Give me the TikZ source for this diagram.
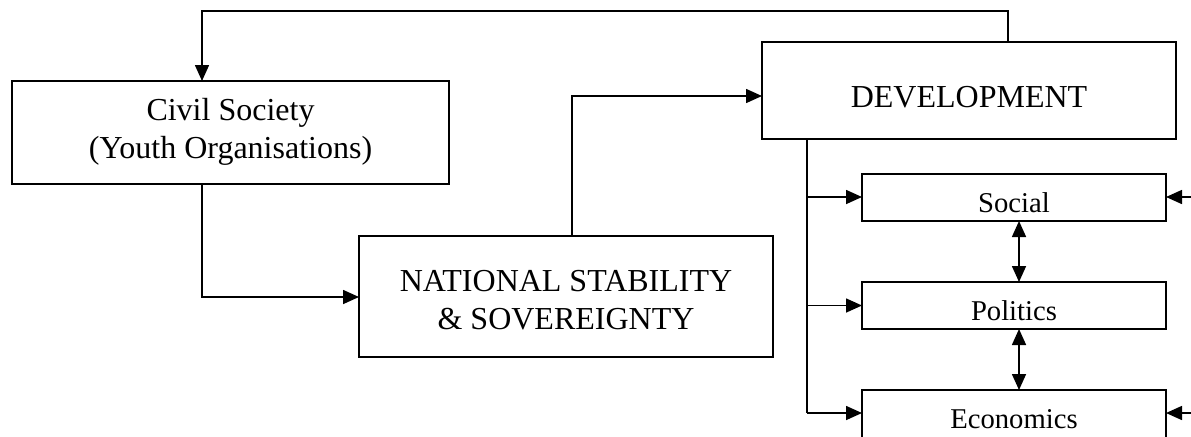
\documentclass[tikz,border=0pt]{standalone}
\usepackage{fontspec}
\setmainfont{Liberation Serif}
\usetikzlibrary{arrows.meta}
\begin{document}
\begin{tikzpicture}[x=0.75pt,y=-0.75pt,
  box/.style={draw,line width=1.5pt,inner sep=0pt,outer sep=0pt},
  bigtext/.style={font=\fontsize{24pt}{28pt}\selectfont},
  smalltext/.style={font=\fontsize{21.5pt}{25pt}\selectfont},
  conn/.style={line width=1.2pt},
  arr/.style={conn,-{Triangle[length=12pt,width=10.5pt]}},
  dbl/.style={conn,{Triangle[length=12pt,width=10.5pt]}-{Triangle[length=12pt,width=10.5pt]}}]
\clip (0,0) rectangle (1191,436);
\fill[white] (0,0) rectangle (1191,436);
% boxes
\node[box,bigtext,align=center,minimum width=437*0.75pt,minimum height=103*0.75pt,
  text height=38.7pt,text depth=0pt] (civil) at (230.5,132.5)
  {\fontsize{24pt}{27.5pt}\selectfont Civil Society\\(Youth Organisations)};
\node[box,bigtext,align=center,minimum width=414*0.75pt,minimum height=121*0.75pt,
  text height=49.2pt,text depth=0pt] (nat) at (566,296.5)
  {\fontsize{24pt}{29pt}\selectfont NATIONAL STABILITY\\\& SOVEREIGNTY};
\node[box,bigtext,minimum width=414*0.75pt,minimum height=97*0.75pt,
  text height=24.9pt,text depth=0pt] (dev) at (969,90.5) {DEVELOPMENT};
\node[box,smalltext,minimum width=304*0.75pt,minimum height=47*0.75pt,
  text height=22.2pt,text depth=0pt] (soc) at (1014,197.5) {Social};
\node[box,smalltext,minimum width=304*0.75pt,minimum height=47*0.75pt,
  text height=22.2pt,text depth=0pt] (pol) at (1014,305.5) {Politics};
\node[box,smalltext,minimum width=304*0.75pt,minimum height=52*0.75pt,
  text height=18pt,text depth=0pt] (eco) at (1014,416) {Economics};
% routing points
\coordinate (c1) at (1008,11);
\coordinate (c2) at (202,11);
\coordinate (c3) at (202,297);
\coordinate (c4) at (572,96);
\coordinate (c5) at (807,413);
\coordinate (c6) at (1019,0);
\coordinate (r1) at (1205,197);
\coordinate (r2) at (1205,413);
% connectors
\draw[arr] (dev.north -| c1) -- (c1) -- (c2) -- (c2 |- civil.north);
\draw[arr] (civil.south -| c3) -- (c3) -- (c3 -| nat.west);
\draw[arr] (nat.north -| c4) -- (c4) -- (c4 -| dev.west);
\draw[conn] (dev.south -| c5) -- (c5);
\draw[arr] (c5 |- r1) -- (r1 -| soc.west);
\draw[arr] (c5 |- pol.west) -- (pol.west);
\draw[arr] (c5) -- (c5 -| eco.west);
\draw[dbl] (soc.south -| c6) -- (pol.north -| c6);
\draw[dbl] (pol.south -| c6) -- (eco.north -| c6);
\draw[arr] (r1) -- (r1 -| soc.east);
\draw[arr] (r2) -- (r2 -| eco.east);
\end{tikzpicture}
\end{document}
